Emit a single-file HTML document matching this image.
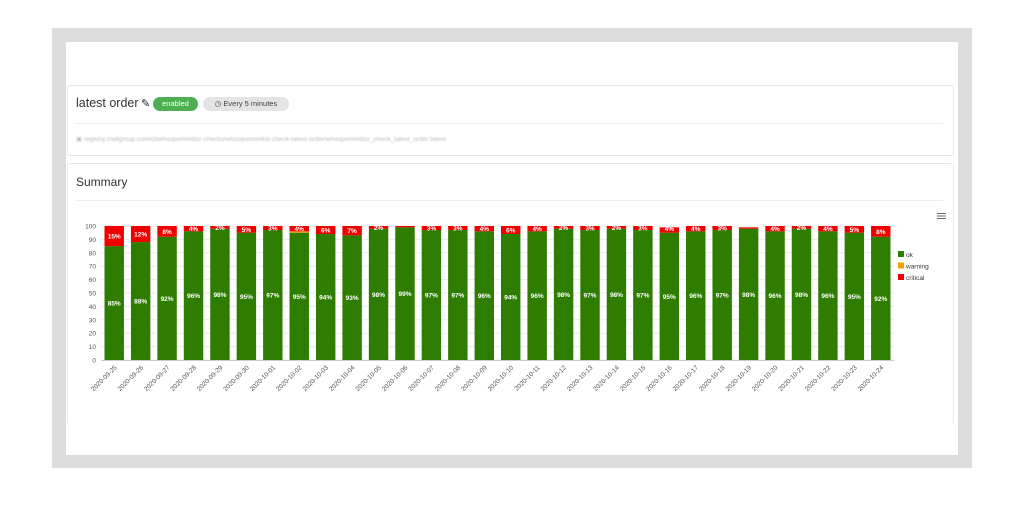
<!DOCTYPE html>
<html><head><meta charset="utf-8"><style>
body{margin:0;width:1024px;height:512px;background:#fff;font-family:"Liberation Sans",sans-serif;position:relative;overflow:hidden}
.abs{position:absolute}
</style></head><body>
<div class="abs" style="left:52px;top:28px;width:920px;height:440px;background:#dcdcdc"></div>
<div class="abs" style="left:66px;top:42px;width:892px;height:413px;background:#fff"></div>
<div class="abs" style="left:67px;top:85px;width:885px;height:69px;border:1px solid #e8e8e8;border-radius:3px;background:#fff"></div>
<div class="abs" style="left:76px;top:96px;font-size:12.5px;color:#333">latest order</div>
<div class="abs" style="left:141px;top:97px;font-size:11px;color:#222">✎</div>
<div class="abs" style="left:153px;top:97px;width:45px;height:14px;border-radius:7px;background:#4caf50;color:#fff;font-size:7.5px;line-height:14px;text-align:center">enabled</div>
<div class="abs" style="left:203px;top:97px;width:86px;height:14px;border-radius:7px;background:#e4e4e4;color:#444;font-size:7.5px;line-height:14px;text-align:center">◷ Every 5 minutes</div>
<div class="abs" style="left:75px;top:123px;width:868px;height:1px;background:#eee"></div>
<div class="abs" style="left:76px;top:135px;font-size:6.5px;color:#bbb;filter:blur(0.6px)">▣ registry.mailgroup.com/cl/whoopsmonitor-checks/whoopsmonitor-check-latest-order/whoopsmonitor_check_latest_order:latest</div>
<div class="abs" style="left:67px;top:163px;width:885px;height:260px;border:1px solid #e8e8e8;border-bottom:none;border-radius:3px;background:#fff"></div>
<div class="abs" style="left:76px;top:175px;font-size:12px;color:#333">Summary</div>
<div class="abs" style="left:75px;top:200px;width:868px;height:1px;background:#eee"></div>
<svg class="abs" style="left:0;top:0" width="1024" height="512" id="chart"></svg>
<script>
const dates=["2020-09-25","2020-09-26","2020-09-27","2020-09-28","2020-09-29","2020-09-30","2020-10-01","2020-10-02","2020-10-03","2020-10-04","2020-10-05","2020-10-06","2020-10-07","2020-10-08","2020-10-09","2020-10-10","2020-10-11","2020-10-12","2020-10-13","2020-10-14","2020-10-15","2020-10-16","2020-10-17","2020-10-18","2020-10-19","2020-10-20","2020-10-21","2020-10-22","2020-10-23","2020-10-24"];
const ok=[85,88,92,96,98,95,97,95,94,93,98,99,97,97,96,94,96,98,97,98,97,95,96,97,98,96,98,96,95,92];
const warning=[0,0,0,0,0,0,0,1,0,0,0,0,0,0,0,0,0,0,0,0,0,0,0,0,0,0,0,0,0,0];
const critical=[15,12,8,4,2,5,3,4,6,7,2,1,3,3,4,6,4,2,3,2,3,4,4,3,1,4,2,4,5,8];
const yTicks=[0,10,20,30,40,50,60,70,80,90,100];
const svg=document.getElementById('chart');const NS='http://www.w3.org/2000/svg';
const X0=101,X1=894,Y0=360,Y1=226;
const bw=(X1-X0)/dates.length;
const y=v=>Y0-(Y0-Y1)*v/100;
const x=i=>X0+bw*i;
function mk(t,a,txt){const e=document.createElementNS(NS,t);for(const k in a)e.setAttribute(k,a[k]);if(txt!=null)e.textContent=txt;svg.appendChild(e);return e;}
yTicks.forEach(v=>{
 const g=mk('line',{x1:X0,x2:X1,y1:y(v),y2:y(v),stroke:'#ececec','stroke-width':1});
 
 
 const t=mk('text',{x:96,y:y(v)+2.5,'font-size':6.5,fill:'#555','text-anchor':'end'},v);
 
 
});
mk('line',{x1:X0,x2:X1,y1:Y0+0.5,y2:Y0+0.5,stroke:'#ccc'});
dates.forEach((d,i)=>{
 const bx=x(i)+3.5,w=bw-7;
 const segs=[[ok[i],0,'#2e7d00','ok'],[warning[i],ok[i],'#f5a000','warning'],[critical[i],ok[i]+warning[i],'#ee0000','critical']];
 segs.forEach(s=>{if(s[0]<=0)return;
  const r=mk('rect',{x:bx,y:y(s[1]+s[0]),width:w,height:y(s[1])-y(s[1]+s[0]),fill:s[2]});
  
  
 });
 const cx=bx+w/2;
 const l=mk('text',{x:cx,y:y(ok[i]/2)+2.5,'font-size':6.5,'font-weight':'bold',fill:'#fff','text-anchor':'middle'},ok[i]+'%');
 
 
 if(critical[i]>=2){const c=mk('text',{x:cx,y:y(100-critical[i]/2)+2.5,'font-size':6.5,'font-weight':'bold',fill:'#fff','text-anchor':'middle'},critical[i]+'%');
 
 }
 const tx=x(i)+bw/2+3,ty=Y0+8;
 const xl=mk('text',{x:tx,y:ty,'font-size':6.5,fill:'#555','text-anchor':'end',transform:`rotate(-45 ${tx} ${ty})`},d);
 
 
});
[['ok','#2e7d00'],['warning','#f5a000'],['critical','#ee0000']].forEach((s,k)=>{
 const r=mk('rect',{x:898,y:251+k*11.5,width:6,height:6,fill:s[1]});
 
 
 const t=mk('text',{x:906,y:257+k*11.5,'font-size':6.5,fill:'#333'},s[0]);
 
 
});
for(let k=0;k<3;k++){const m=mk('rect',{x:937,y:213+k*2.5,width:9,height:1,fill:'#667'});
 
 }
</script>
</body></html>
